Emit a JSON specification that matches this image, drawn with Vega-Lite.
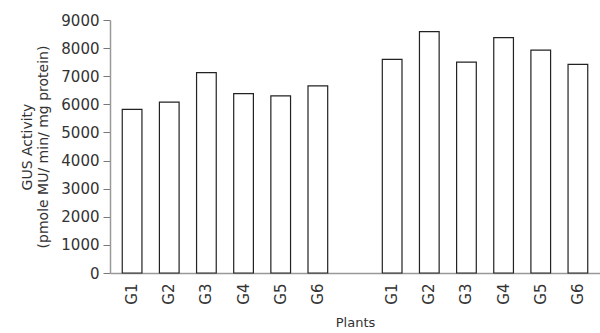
{
  "$schema": "https://vega.github.io/schema/vega-lite/v6.json",
  "autosize": "none",
  "padding": {"left": 110, "top": 20, "right": 0, "bottom": 60},
  "width": 490,
  "height": 253,
  "background": "white",
  "config": {"view": {"stroke": null}, "font": "DejaVu Sans"},
  "data": {
    "values": [
      {"id": "G1a", "gus": 5820},
      {"id": "G2a", "gus": 6080},
      {"id": "G3a", "gus": 7130},
      {"id": "G4a", "gus": 6380},
      {"id": "G5a", "gus": 6300},
      {"id": "G6a", "gus": 6660},
      {"id": "G1b", "gus": 7600},
      {"id": "G2b", "gus": 8590},
      {"id": "G3b", "gus": 7500},
      {"id": "G4b", "gus": 8370},
      {"id": "G5b", "gus": 7930},
      {"id": "G6b", "gus": 7420}
    ]
  },
  "mark": {"type": "bar", "fill": "white", "stroke": "#222", "strokeWidth": 1.2},
  "encoding": {
    "x": {
      "field": "id",
      "type": "nominal",
      "scale": {
        "domain": ["G1a","G2a","G3a","G4a","G5a","G6a","gap","G1b","G2b","G3b","G4b","G5b","G6b"],
        "paddingInner": 0.47,
        "paddingOuter": 0.33
      },
      "axis": {
        "title": "Plants",
        "titleFontWeight": "normal",
        "titleFontSize": 13,
        "titleColor": "#333",
        "titlePadding": 12,
        "labelAngle": -90,
        "labelFontSize": 15,
        "labelColor": "#333",
        "labelPadding": 10,
        "labelExpr": "datum.value == 'gap' ? '' : substring(datum.value, 0, 2)",
        "ticks": false,
        "domainColor": "#999",
        "domainWidth": 1.5
      }
    },
    "y": {
      "field": "gus",
      "type": "quantitative",
      "scale": {"domain": [0, 9000], "nice": false},
      "axis": {
        "title": ["GUS Activity", "(pmole MU/ min/ mg protein)"],
        "titleFontWeight": "normal",
        "titleFontSize": 14,
        "titleColor": "#333",
        "titlePadding": 10,
        "titleLineHeight": 16,
        "values": [0,1000,2000,3000,4000,5000,6000,7000,8000,9000],
        "format": "d",
        "labelFontSize": 15,
        "labelColor": "#333",
        "labelPadding": 4,
        "tickSize": 7,
        "tickColor": "#777",
        "domainColor": "#999",
        "domainWidth": 1.5,
        "grid": false
      }
    }
  }
}
